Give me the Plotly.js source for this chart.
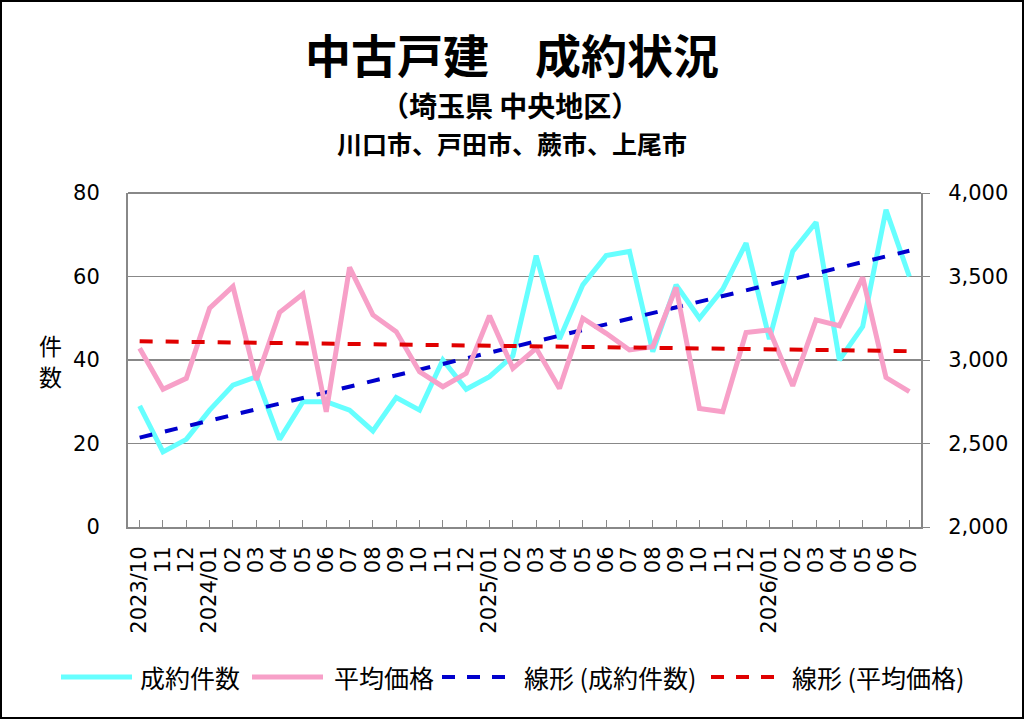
<!DOCTYPE html>
<html>
<head>
<meta charset="utf-8">
<script src="https://cdn.plot.ly/plotly-3.0.1.min.js"></script>
<style>
body { margin: 0; background: #fff; }
#wrap { position: relative; width: 1024px; height: 719px; }
#chart { width: 1024px; height: 719px; }
#frame { position: absolute; left: 0; top: 0; width: 1024px; height: 719px; border: 2px solid #000; box-sizing: border-box; pointer-events: none; }
</style>
</head>
<body>
<div id="wrap"><div id="chart"></div><div id="frame"></div></div>
<script>
// months 2023/10 .. 2026/07
var months = ['2023/10','2023/11','2023/12','2024/01','2024/02','2024/03','2024/04','2024/05','2024/06','2024/07','2024/08','2024/09','2024/10','2024/11','2024/12','2025/01','2025/02','2025/03','2025/04','2025/05','2025/06','2025/07','2025/08','2025/09','2025/10','2025/11','2025/12','2026/01','2026/02','2026/03','2026/04','2026/05','2026/06','2026/07'];
var tickLabels = ['2023/10','11','12','2024/01','02','03','04','05','06','07','08','09','10','11','12','2025/01','02','03','04','05','06','07','08','09','10','11','12','2026/01','02','03','04','05','06','07'];

// 成約件数
var counts = [29,18,21,28,34,36,21,30,30,28,23,31,28,40,33,36,41,65,45,58,65,66,42,58,50,57,68,45,66,73,40,48,76,60];
// 平均価格 (万円)
var prices = [3070,2825,2890,3310,3440,2880,3285,3395,2690,3555,3270,3170,2930,2840,2920,3265,2950,3070,2830,3250,3160,3060,3080,3435,2710,2690,3165,3180,2845,3240,3205,3495,2895,2810];

var seriesNames = ['成約件数', '平均価格', '線形 (成約件数)', '線形 (平均価格)'];
var seriesColors = ['rgb(102,255,255)', 'rgb(247,160,200)', 'rgb(0,0,204)', 'rgb(224,0,0)'];

function linearFit(ys) {
	var n = ys.length, sx = 0, sy = 0, sxx = 0, sxy = 0;
	for (var i = 0; i < n; i++) {
		var x = i + 1;
		sx += x; sy += ys[i]; sxx += x * x; sxy += x * ys[i];
	}
	var b = (n * sxy - sx * sy) / (n * sxx - sx * sx);
	var a = (sy - b * sx) / n;
	return ys.map(function (v, i) { return a + b * (i + 1); });
}

// plot box in page pixels, used to place the hand-made legend and titles
var L = 128, R = 921, T = 193, B = 527;
function px(x) { return (x - L) / (R - L); }
function py(y) { return (B - y) / (B - T); }

var jp = '"Noto Sans CJK JP", sans-serif';
var tickFont = { family: 'DejaVu Sans, sans-serif', size: 21, color: '#000' };

var data = [
	{ x: months, y: counts, name: seriesNames[0], type: 'scatter', mode: 'lines',
	  line: { color: seriesColors[0], width: 5 } },
	{ x: months, y: prices, name: seriesNames[1], type: 'scatter', mode: 'lines', yaxis: 'y2',
	  line: { color: seriesColors[1], width: 5 } },
	{ x: months, y: linearFit(counts), name: seriesNames[2], type: 'scatter', mode: 'lines',
	  line: { color: seriesColors[2], width: 4, dash: '13px,13px' } },
	{ x: months, y: linearFit(prices), name: seriesNames[3], type: 'scatter', mode: 'lines', yaxis: 'y2',
	  line: { color: seriesColors[3], width: 4, dash: '13px,13px' } }
];

// legend: sample line [x0, x1] and label start, in page pixels
var legendLines = [[61, 132], [252, 323], [442, 513], [711, 781]];
var legendText = [138, 332, 522, 790];
var legendY = 677;

var shapes = [
	{ type: 'line', xref: 'paper', yref: 'paper', x0: 0, x1: 1, y0: 1, y1: 1,
	  line: { color: '#888', width: 2 } }
];
var annotations = [
	{ text: '中古戸建　成約状況', xref: 'paper', yref: 'paper', x: px(512), y: py(53),
	  xanchor: 'center', yanchor: 'middle', showarrow: false,
	  font: { family: jp, size: 46, color: '#000', weight: 'bold' } },
	{ text: '（埼玉県 中央地区）', xref: 'paper', yref: 'paper', x: px(510), y: py(105),
	  xanchor: 'center', yanchor: 'middle', showarrow: false,
	  font: { family: jp, size: 28, color: '#000', weight: 'bold' } },
	{ text: '川口市、戸田市、蕨市、上尾市', xref: 'paper', yref: 'paper', x: px(512), y: py(143),
	  xanchor: 'center', yanchor: 'middle', showarrow: false,
	  font: { family: jp, size: 25, color: '#000', weight: 'bold' } },
	{ text: '件', xref: 'paper', yref: 'paper', x: px(50), y: py(345),
	  xanchor: 'center', yanchor: 'middle', showarrow: false,
	  font: { family: jp, size: 23, color: '#000' } },
	{ text: '数', xref: 'paper', yref: 'paper', x: px(50), y: py(376),
	  xanchor: 'center', yanchor: 'middle', showarrow: false,
	  font: { family: jp, size: 23, color: '#000' } }
];

seriesNames.forEach(function (name, i) {
	shapes.push({
		type: 'line', xref: 'paper', yref: 'paper',
		x0: px(legendLines[i][0]), x1: px(legendLines[i][1]), y0: py(legendY), y1: py(legendY),
		line: { color: seriesColors[i], width: i < 2 ? 5 : 4, dash: i < 2 ? 'solid' : '13px,12px' }
	});
	annotations.push({
		text: name, xref: 'paper', yref: 'paper', x: px(legendText[i]), y: py(legendY),
		xanchor: 'left', yanchor: 'middle', showarrow: false,
		font: { family: jp, size: 25, color: '#000' }
	});
});

var layout = {
	width: 1024,
	height: 719,
	margin: { l: L, r: 1024 - R, t: T, b: 719 - B },
	paper_bgcolor: '#fff',
	plot_bgcolor: '#fff',
	showlegend: false,
	xaxis: {
		type: 'category',
		range: [-0.5, months.length - 0.5],
		tickmode: 'array',
		tickvals: months,
		ticktext: tickLabels,
		tickangle: -90,
		tickfont: tickFont,
		ticklabelstandoff: 9,
		ticks: 'inside', ticklen: 7, tickcolor: '#888',
		showline: true, linecolor: '#888', linewidth: 2,
		showgrid: false
	},
	yaxis: {
		range: [0, 80], dtick: 20,
		tickfont: tickFont,
		ticklabelstandoff: 22,
		ticks: '',
		showline: true, linecolor: '#888', linewidth: 2,
		gridcolor: '#888', gridwidth: 1.5,
		zeroline: false
	},
	yaxis2: {
		range: [2000, 4000], dtick: 500,
		tickformat: ',d',
		overlaying: 'y', side: 'right',
		tickfont: tickFont,
		ticklabelstandoff: 14,
		ticks: 'outside', ticklen: 7, tickcolor: '#888',
		showline: true, linecolor: '#888', linewidth: 2,
		showgrid: false, zeroline: false
	},
	shapes: shapes,
	annotations: annotations
};

Plotly.newPlot('chart', data, layout, { staticPlot: true });
</script>
</body>
</html>
